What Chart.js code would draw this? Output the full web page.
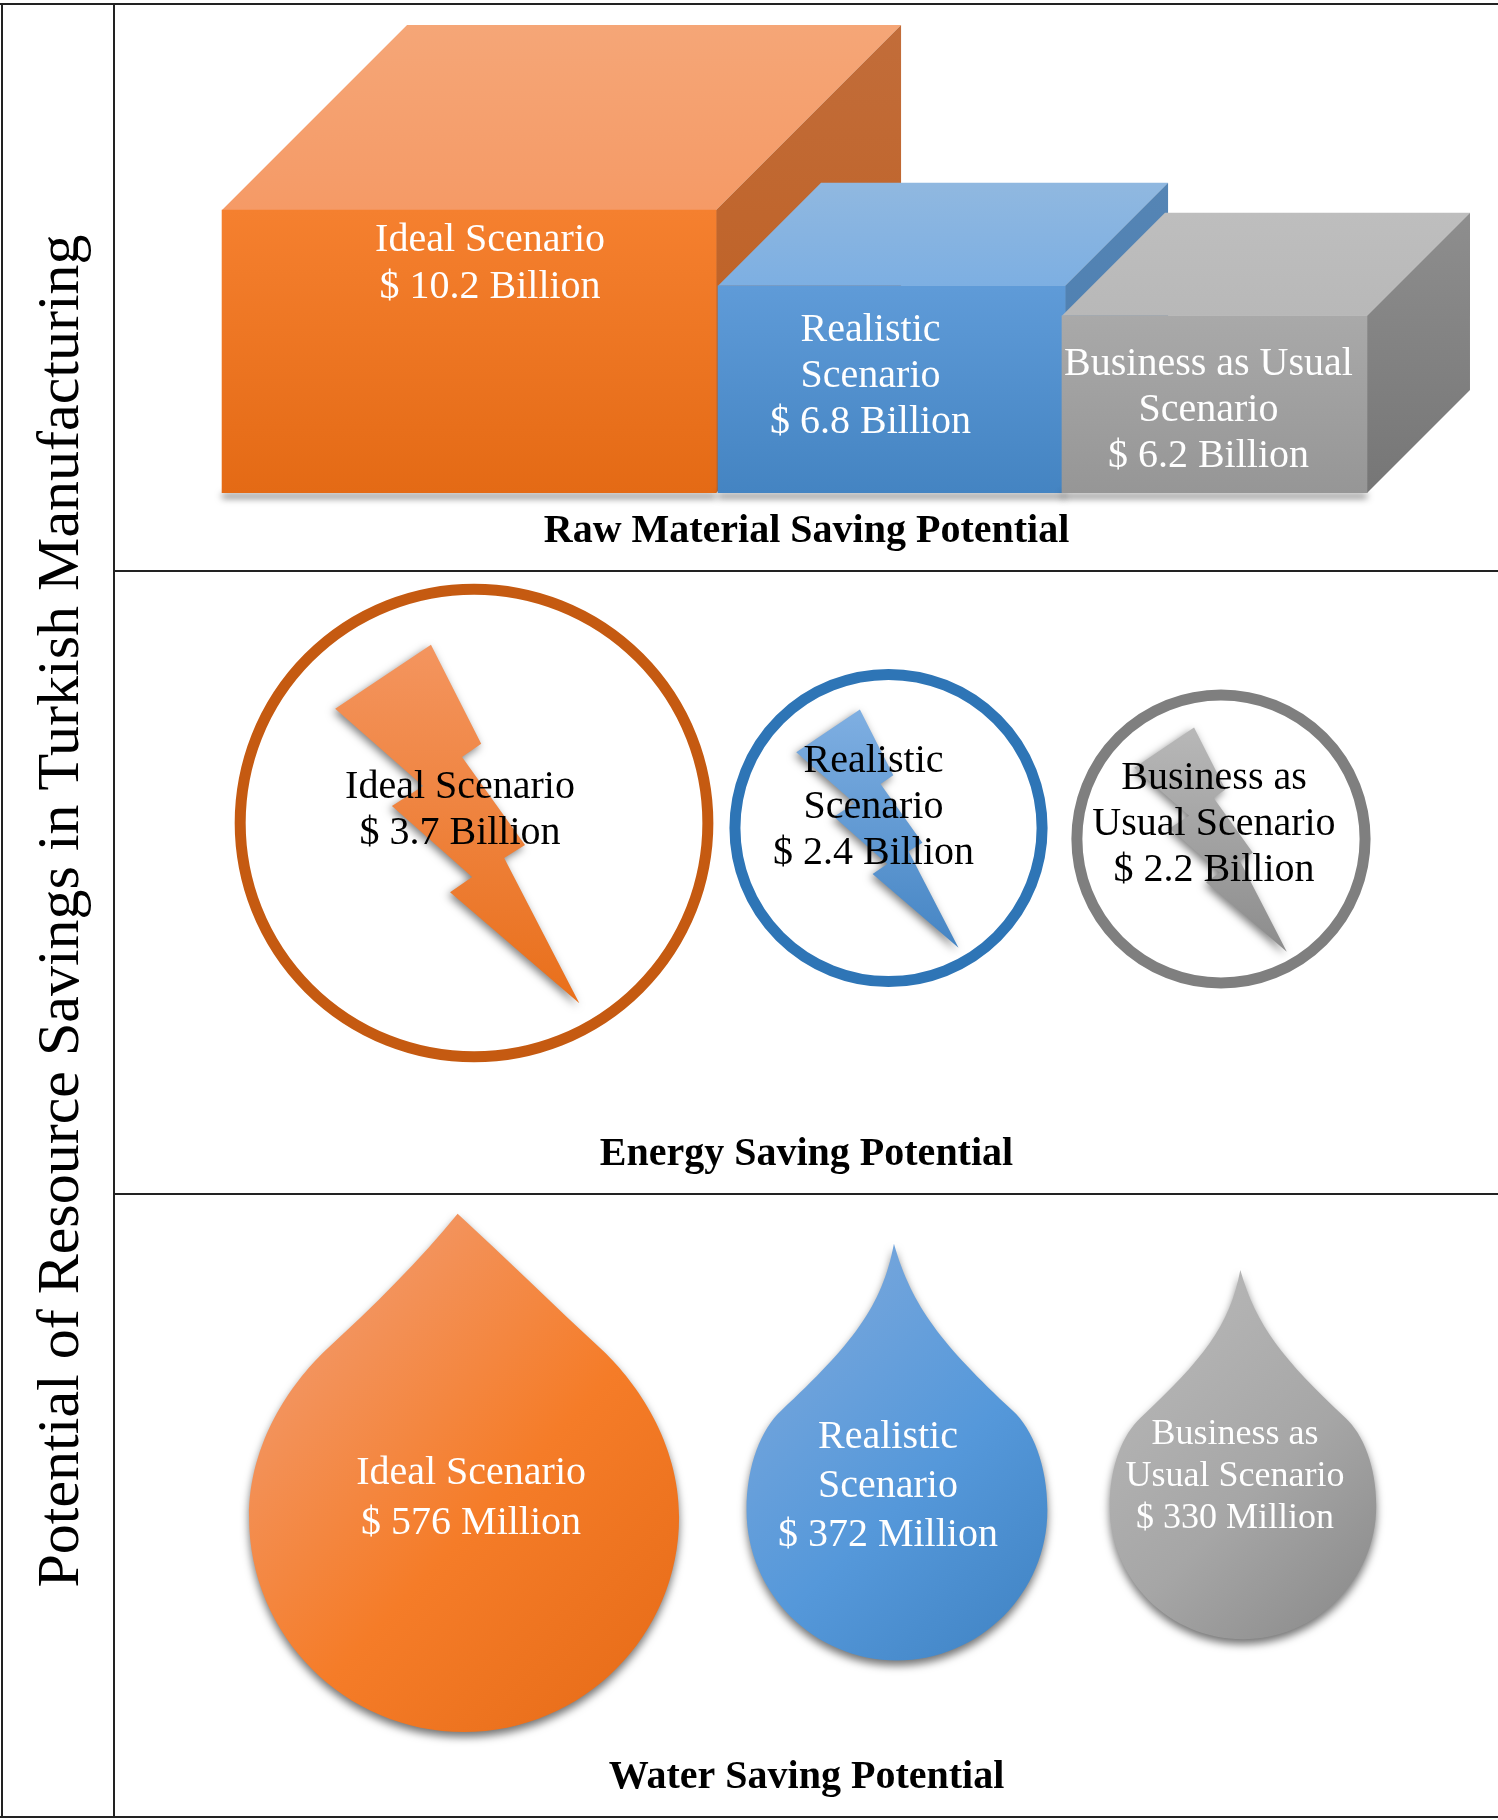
<!DOCTYPE html>
<html>
<head>
<meta charset="utf-8">
<title>Potential of Resource Savings in Turkish Manufacturing</title>
<script src="https://cdn.jsdelivr.net/npm/chart.js@4"></script>
<style>
    html, body { margin: 0; padding: 0; background: #fff; }
    #page { position: relative; width: 1498px; height: 1820px; overflow: hidden; background: #fff; }
    #page canvas { position: absolute; left: 115px; }
    .rule { position: absolute; background: #222; }
    #sideTitle {
        position: absolute; left: 58px; top: 911px; white-space: nowrap;
        font: 60px "Liberation Serif", serif; color: #000;
        transform: translate(-50%, -50%) rotate(-90deg);
    }
</style>
</head>
<body>
<div id="page">
    <div class="rule" style="left:0;top:3px;width:1498px;height:2px"></div>
    <div class="rule" style="left:0;top:1816px;width:1498px;height:2px"></div>
    <div class="rule" style="left:1px;top:3px;width:2px;height:1815px"></div>
    <div class="rule" style="left:113px;top:3px;width:2px;height:1815px"></div>
    <div class="rule" style="left:113px;top:570px;width:1385px;height:2px"></div>
    <div class="rule" style="left:113px;top:1193px;width:1385px;height:2px"></div>
    <div id="sideTitle">Potential of Resource Savings in Turkish Manufacturing</div>
    <canvas id="rawChart" width="1383" height="565" style="top:5px"></canvas>
    <canvas id="energyChart" width="1383" height="621" style="top:572px"></canvas>
    <canvas id="waterChart" width="1383" height="621" style="top:1195px"></canvas>
</div>

<script>
var scenarios = ['Ideal Scenario', 'Realistic Scenario', 'Business as Usual Scenario'];

// printed values
var rawValues = [10.2, 6.8, 6.2];      // $ billion
var energyValues = [3.7, 2.4, 2.2];    // $ billion
var waterValues = [576, 372, 330];     // $ million

// the shapes are not quite to scale with the printed values, so these are read off the picture
var rawDrawn = [10.2, 7.47, 6.39];
var energyDrawn = [3.7, 2.43, 2.28];
var waterDrawn = [576, 403, 357];

var rawTitle = 'Raw Material Saving Potential';
var energyTitle = 'Energy Saving Potential';
var waterTitle = 'Water Saving Potential';

var rawNames = [['Ideal Scenario'], ['Realistic', 'Scenario'], ['Business as Usual', 'Scenario']];
var energyNames = [['Ideal Scenario'], ['Realistic', 'Scenario'], ['Business as', 'Usual Scenario']];
var waterNames = energyNames;

var serif = '"Liberation Serif", serif';

var palette = [
    { front: ['#f5802f', '#e46a15'], top: ['#f5a677', '#f59a66'], side: ['#c26d3a', '#bd5c1c'], ring: '#c55a11',
      bolt: ['#f4955f', '#e96f1a'], drop: ['#f29a6c', '#f57c28', '#e56a16'] },
    { front: ['#5f9bd8', '#4484c2'], top: ['#90b8e0', '#7dafe2'], side: ['#5585b5', '#4a7cae'], ring: '#2e75b6',
      bolt: ['#7fafe2', '#4585c4'], drop: ['#76a6dc', '#5598da', '#3f82c2'] },
    { front: ['#a9a9a9', '#969696'], top: ['#bebebe', '#b8b8b8'], side: ['#8e8e8e', '#767676'], ring: '#7f7f7f',
      bolt: ['#b8b8b8', '#8c8c8c'], drop: ['#b6b6b6', '#a6a6a6', '#888888'] }
];

// category axis whose three slots sit at chosen fractions of the axis rather than evenly
class SlotScale extends Chart.CategoryScale {
    getPixelForValue(value) {
        var i = typeof value === 'number' ? value : this.parse(value);
        return this.getPixelForDecimal(this.options.slots[i]);
    }
}
SlotScale.id = 'slots';
SlotScale.defaults = Chart.CategoryScale.defaults;
Chart.register(SlotScale);

function vGradient(ctx, y0, y1, colors) {
    var g = ctx.createLinearGradient(0, y0, 0, y1);
    colors.forEach(function (c, i) { g.addColorStop(i / (colors.length - 1), c); });
    return g;
}

function fillPolygon(ctx, pts, fill) {
    ctx.beginPath();
    pts.forEach(function (p, i) { i ? ctx.lineTo(p[0], p[1]) : ctx.moveTo(p[0], p[1]); });
    ctx.closePath();
    ctx.fillStyle = fill;
    ctx.fill();
}

// top and side faces of the boxes, drawn just before each bar so the overlaps stack correctly
var boxFaces = {
    id: 'boxFaces',
    beforeDatasetDraw: function (chart, args, opts) {
        var ctx = chart.ctx, i = args.index, c = palette[i], d = opts.depth[i];
        var el = args.meta.data[i].getProps(['x', 'y', 'base', 'width'], true);
        var l = el.x - el.width / 2, r = el.x + el.width / 2;
        ctx.save();
        ctx.shadowColor = 'rgba(0,0,0,0.6)';
        ctx.shadowBlur = 7;
        ctx.shadowOffsetY = 5;
        fillPolygon(ctx, [[l, el.base - 4], [r, el.base - 4], [r, el.base], [l, el.base]], '#888');
        ctx.restore();
        fillPolygon(ctx, [[l, el.y], [l + d, el.y - d], [r + d, el.y - d], [r, el.y]], vGradient(ctx, el.y - d, el.y, c.top));
        fillPolygon(ctx, [[r, el.y], [r + d, el.y - d], [r + d, el.base - d], [r, el.base]], vGradient(ctx, el.y - d, el.base, c.side));
    }
};

// lightning bolt, in units of the ring radius around its centre
var boltOutline = [[-0.18, -0.745], [0.03, -0.331], [-0.05, -0.276], [0.213, 0.092], [0.126, 0.146], [0.44, 0.753],
    [-0.10, 0.289], [-0.008, 0.226], [-0.343, -0.071], [-0.213, -0.155], [-0.58, -0.477]];

var bolts = {
    id: 'bolts',
    beforeDatasetDraw: function (chart, args) {
        var ctx = chart.ctx;
        args.meta.data.forEach(function (el, i) {
            var r = el.options.radius + el.options.borderWidth / 2;
            var pts = boltOutline.map(function (p) { return [el.x + p[0] * r, el.y + p[1] * r]; });
            ctx.save();
            ctx.shadowColor = 'rgba(0,0,0,0.5)';
            ctx.shadowBlur = 8;
            ctx.shadowOffsetX = -2;
            ctx.shadowOffsetY = 3;
            fillPolygon(ctx, pts, vGradient(ctx, el.y - 0.745 * r, el.y + 0.753 * r, palette[i].bolt));
            ctx.restore();
        });
    }
};

var drops = {
    id: 'drops',
    beforeDatasetDraw: function (chart, args, opts) {
        var ctx = chart.ctx;
        args.meta.data.forEach(function (el, i) {
            var r = el.options.radius, x = el.x, y = el.y, t = opts.tips[i], k = 0.5523;
            ctx.save();
            ctx.beginPath();
            ctx.moveTo(x + t.dx * r, y - t.h * r);
            ctx.bezierCurveTo(x + t.c1[0] * r, y - t.c1[1] * r, x + t.c2[0] * r, y - t.c2[1] * r, x + t.s[0] * r, y - t.s[1] * r);
            ctx.bezierCurveTo(x + t.c3[0] * r, y - t.c3[1] * r, x + r, y - t.c4 * r, x + r, y);
            ctx.bezierCurveTo(x + r, y + k * r, x + k * r, y + r, x, y + r);
            ctx.bezierCurveTo(x - k * r, y + r, x - r, y + k * r, x - r, y);
            ctx.bezierCurveTo(x - r, y - t.c4 * r, x - t.c3[0] * r, y - t.c3[1] * r, x - t.s[0] * r, y - t.s[1] * r);
            ctx.bezierCurveTo(x - t.c2[0] * r, y - t.c2[1] * r, x - t.c1[0] * r, y - t.c1[1] * r, x + t.dx * r, y - t.h * r);
            ctx.closePath();
            var g = ctx.createLinearGradient(x - r, y - t.h * r * 0.6, x + r, y + r);
            g.addColorStop(0, palette[i].drop[0]);
            g.addColorStop(0.5, palette[i].drop[1]);
            g.addColorStop(1, palette[i].drop[2]);
            ctx.fillStyle = g;
            ctx.shadowColor = 'rgba(0,0,0,0.55)';
            ctx.shadowBlur = 8;
            ctx.shadowOffsetY = 5;
            ctx.fill();
            ctx.restore();
        });
    }
};

var markText = {
    id: 'markText',
    afterDatasetsDraw: function (chart, args, opts) {
        var ctx = chart.ctx, x = chart.scales.x;
        ctx.save();
        ctx.textAlign = 'center';
        ctx.textBaseline = 'middle';
        scenarios.forEach(function (s, i) {
            var lines = opts.names[i].concat('$ ' + opts.values[i] + ' ' + opts.unit);
            var size = opts.size[i], gap = opts.gap[i];
            var cx = x.getPixelForValue(i) + opts.shift[i][0];
            var cy = opts.anchor(chart, i) + opts.shift[i][1];
            ctx.font = size + 'px ' + serif;
            ctx.fillStyle = opts.color;
            lines.forEach(function (line, n) {
                ctx.fillText(line, cx, cy + (n - (lines.length - 1) / 2) * gap);
            });
        });
        ctx.restore();
    }
};

function titleOptions(text) {
    return {
        display: true, position: 'bottom', text: text, color: '#000',
        font: { family: serif, size: 40, weight: 'bold', lineHeight: 1.2 },
        padding: { top: 15, bottom: 14 }
    };
}

function hiddenSlots(slots) {
    return { type: 'slots', display: false, slots: slots };
}

function barDataset(i) {
    return {
        data: rawDrawn.map(function (v, j) { return j === i ? v : null; }),
        barThickness: [494, 347, 305][i],
        grouped: false,
        order: 3 - i,
        borderWidth: 0,
        backgroundColor: function (c) {
            var y = c.chart.scales.y;
            if (!c.chart.chartArea || !y) return palette[i].front[0];
            return vGradient(c.chart.ctx, y.getPixelForValue(rawDrawn[i]), y.getPixelForValue(0), palette[i].front);
        }
    };
}

new Chart(document.getElementById('rawChart'), {
    type: 'bar',
    data: { labels: scenarios, datasets: [barDataset(0), barDataset(1), barDataset(2)] },
    plugins: [boxFaces, markText],
    options: {
        responsive: false, animation: false, events: [],
        layout: { padding: 0, autoPadding: false },
        scales: {
            x: hiddenSlots([0.256, 0.5615, 0.795]),
            y: { display: false, min: 0, max: 17.59 }
        },
        plugins: {
            legend: { display: false }, tooltip: { enabled: false },
            title: titleOptions(rawTitle),
            boxFaces: { depth: [185, 103, 103] },
            markText: {
                names: rawNames, values: rawValues, unit: 'Billion', color: '#fff',
                size: [40, 40, 40], gap: [47, 46, 46],
                shift: [[21, 0], [-21, 0], [-6, 0]],
                anchor: function (chart, i) { return [259, 371, 405][i]; }
            }
        }
    }
});

function bubbleAnchor(chart, i) {
    return chart.getDatasetMeta(0).data[i].y;
}

new Chart(document.getElementById('energyChart'), {
    type: 'bubble',
    data: {
        labels: scenarios,
        datasets: [{
            data: energyDrawn.map(function (v, i) { return { x: scenarios[i], y: scenarios[i], r: v * 63.2 }; }),
            backgroundColor: 'rgba(255,255,255,0)',
            borderColor: palette.map(function (c) { return c.ring; }),
            borderWidth: 11,
            clip: false
        }]
    },
    plugins: [bolts, markText],
    options: {
        responsive: false, animation: false, events: [],
        layout: { padding: 0, autoPadding: false },
        scales: {
            x: hiddenSlots([0.2596, 0.5593, 0.7997]),
            y: hiddenSlots([0.4614, 0.4706, 0.4908])
        },
        plugins: {
            legend: { display: false }, tooltip: { enabled: false },
            title: titleOptions(energyTitle),
            markText: {
                names: energyNames, values: energyValues, unit: 'Billion', color: '#000',
                size: [40, 40, 40], gap: [46, 46, 46],
                shift: [[-14, -13], [-15, -21], [-7, -14]],
                anchor: bubbleAnchor
            }
        }
    }
});

var stoutTip = { h: 1.41, dx: -0.03, c1: [0.2, 1.2], c2: [0.42, 0.98], s: [0.65, 0.77], c3: [0.8, 0.625], c4: 0.35 };
var slimTip = { h: 1.77, dx: -0.02, c1: [0.1, 1.35], c2: [0.3, 1.1], s: [0.77, 0.66], c3: [0.9, 0.54], c4: 0.3 };

new Chart(document.getElementById('waterChart'), {
    type: 'bubble',
    data: {
        labels: scenarios,
        datasets: [{
            data: waterDrawn.map(function (v, i) { return { x: scenarios[i], y: scenarios[i], r: v * 0.3733 }; }),
            backgroundColor: 'rgba(255,255,255,0)',
            borderWidth: 0,
            clip: false
        }]
    },
    plugins: [drops, markText],
    options: {
        responsive: false, animation: false, events: [],
        layout: { padding: 0, autoPadding: false },
        scales: {
            x: hiddenSlots([0.2524, 0.5654, 0.8156]),
            y: hiddenSlots([0.5919, 0.579, 0.5717])
        },
        plugins: {
            legend: { display: false }, tooltip: { enabled: false },
            title: titleOptions(waterTitle),
            drops: { tips: [stoutTip, slimTip, slimTip] },
            markText: {
                names: waterNames, values: waterValues, unit: 'Million', color: '#fff',
                size: [40, 40, 36], gap: [50, 49, 42],
                shift: [[7, -18], [-9, -23], [-8, -29]],
                anchor: bubbleAnchor
            }
        }
    }
});
</script>
</body>
</html>
